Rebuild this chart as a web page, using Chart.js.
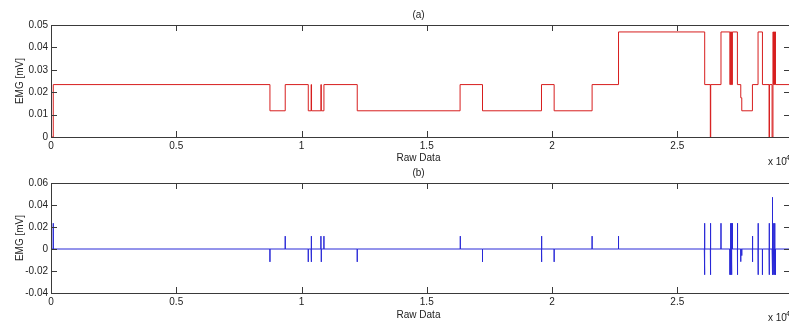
<!DOCTYPE html>
<html>
<head>
<meta charset="utf-8">
<script src="https://cdn.jsdelivr.net/npm/chart.js@4/dist/chart.umd.min.js"></script>
<style>
  html, body { margin: 0; padding: 0; background: #fff; width: 789px; height: 323px; overflow: hidden; }
  .plot { position: absolute; left: 0; width: 800px; }
</style>
</head>
<body>
<div class="plot" style="top:0;height:170px"><canvas id="emg"></canvas></div>
<div class="plot" style="top:160px;height:163px"><canvas id="diff"></canvas></div>
<script>
// (a) raw EMG, step changes: sample index -> level [mV]
const emgX = [0, 90, 8740, 9350, 10270, 10385, 10400, 10775, 10790, 10895, 12225,
  16330, 17225, 19580, 20085, 21600, 22655, 26095, 26320, 26335, 26745,
  27100, 27120, 27140, 27160, 27180, 27200, 27400, 27535, 27575, 28000,
  28225, 28400, 28665, 28680, 28785, 28820, 28840, 28860, 28880, 28900, 28920, 29500];
const emgY = [0, 0.0234, 0.0117, 0.0234, 0.0117, 0.0234, 0.0117, 0.0234, 0.0117, 0.0234, 0.0117,
  0.0234, 0.0117, 0.0234, 0.0117, 0.0234, 0.0469, 0.0234, 0, 0.0234, 0.0469,
  0.0234, 0.0469, 0.0234, 0.0469, 0.0234, 0.0469, 0.0234, 0.0175, 0.0117, 0.0234,
  0.0469, 0.0234, 0, 0.0234, 0, 0.0469, 0.0234, 0.0469, 0.0234, 0.0469, 0.0234, 0.0234];

// (b) spikes: sample index -> value [mV]
const diffX = [90, 8740, 9350, 10270, 10385, 10400, 10775, 10790, 10895, 12225,
  16330, 16345, 17225, 19580, 19590, 20085, 21600, 22655,
  26080, 26085, 26100, 26105, 26320, 26335, 26745,
  27100, 27120, 27140, 27160, 27180, 27200, 27400, 27410, 27535, 27575,
  28000, 28010, 28225, 28235, 28400, 28665, 28680, 28785, 28795,
  28820, 28840, 28860, 28880, 28900, 28920];
const diffY = [0.0234, -0.0117, 0.0117, -0.0117, 0.0117, -0.0117, 0.0117, -0.0117, 0.0117, -0.0117,
  0.0117, 0.0117, -0.0117, 0.0117, -0.0117, -0.0117, 0.0117, 0.0117,
  -0.0234, 0.0234, -0.0234, 0.0234, -0.0234, 0.0234, 0.0234,
  -0.0234, 0.0234, -0.0234, 0.0234, -0.0234, 0.0234, -0.0234, 0.0234, -0.0115, -0.006,
  0.0117, -0.0117, 0.0234, -0.0234, -0.0234, -0.0234, 0.0234, -0.0234, 0.0234,
  0.047, -0.0234, 0.0234, -0.0234, 0.0234, -0.0234];

const xMax = 29500;
const xTicks = [0, 5000, 10000, 15000, 20000, 25000];
const FONT = '"Liberation Sans", Arial, sans-serif';

const emgData = emgX.map((x, i) => ({ x: x, y: emgY[i] }));
const diffData = [{ x: 0, y: 0 }];
diffX.forEach((x, i) => {
  diffData.push({ x: x, y: 0 }, { x: x, y: diffY[i] }, { x: x, y: 0 });
});
diffData.push({ x: xMax, y: 0 });

// matlab style box, inward ticks and labels
const matlabAxes = {
  id: 'matlabAxes',
  afterDraw(chart, args, opts) {
    const { ctx, chartArea: a, scales: { x, y } } = chart;
    ctx.save();
    ctx.strokeStyle = '#3a3a3a';
    ctx.lineWidth = 1;
    ctx.beginPath();
    x.ticks.forEach(t => {
      const px = Math.round(x.getPixelForValue(t.value)) + 0.5;
      ctx.moveTo(px, a.bottom); ctx.lineTo(px, a.bottom - 6);
      ctx.moveTo(px, a.top); ctx.lineTo(px, a.top + 6);
    });
    y.ticks.forEach(t => {
      const py = Math.round(y.getPixelForValue(t.value)) + 0.5;
      ctx.moveTo(a.left, py); ctx.lineTo(a.left + 6, py);
      ctx.moveTo(a.right, py); ctx.lineTo(a.right - 6, py);
    });
    ctx.stroke();
    ctx.strokeRect(Math.round(a.left) + 0.5, Math.round(a.top) + 0.5,
      Math.round(a.right - a.left), Math.round(a.bottom - a.top));

    const cx = (a.left + a.right) / 2 - 2;
    ctx.fillStyle = '#222';
    ctx.textAlign = 'center';
    ctx.textBaseline = 'middle';
    ctx.font = '10px ' + FONT;
    ctx.fillText(opts.title, cx, a.top - 10);
    ctx.fillText('Raw Data', cx, a.bottom + opts.xlabelGap);

    ctx.textAlign = 'left';
    ctx.fillText('x 10', 768, a.bottom + opts.expGap);
    ctx.font = '7px ' + FONT;
    ctx.fillText('4', 786, a.bottom + opts.expGap - 4);

    ctx.font = '10px ' + FONT;
    ctx.translate(20, (a.top + a.bottom) / 2);
    ctx.rotate(-Math.PI / 2);
    ctx.textAlign = 'center';
    ctx.fillText('EMG [mV]', 0, 0);
    ctx.restore();
  }
};

function makeOptions(yMin, yMax, yStep, padTop, xHeight, title, xlabelGap, expGap) {
  return {
    responsive: true,
    maintainAspectRatio: false,
    animation: false,
    events: [],
    layout: { padding: { top: padTop, right: 10, left: 0, bottom: 0 } },
    plugins: {
      legend: { display: false },
      tooltip: { enabled: false },
      matlabAxes: { title: title, xlabelGap: xlabelGap, expGap: expGap }
    },
    scales: {
      x: {
        type: 'linear',
        min: 0,
        max: xMax,
        grid: { display: false, drawTicks: false },
        border: { display: false },
        afterBuildTicks(scale) { scale.ticks = xTicks.map(v => ({ value: v })); },
        ticks: {
          autoSkip: false,
          maxRotation: 0,
          padding: 3,
          color: '#222',
          font: { family: FONT, size: 10 },
          callback: v => String(+(v / 10000).toFixed(2))
        },
        afterFit(scale) { scale.height = xHeight; }
      },
      y: {
        min: yMin,
        max: yMax,
        grid: { display: false, drawTicks: false },
        border: { display: false },
        ticks: {
          stepSize: yStep,
          includeBounds: false,
          padding: 3,
          color: '#222',
          font: { family: FONT, size: 10 },
          callback: v => String(+v.toFixed(2))
        },
        afterFit(scale) { scale.width = 51; }
      }
    }
  };
}

new Chart(document.getElementById('emg'), {
  type: 'line',
  data: {
    datasets: [{
      data: emgData,
      stepped: true,
      borderColor: 'rgb(215,30,30)',
      borderWidth: 1,
      pointRadius: 0,
      fill: false
    }]
  },
  options: makeOptions(0, 0.05, 0.01, 25, 33, '(a)', 21, 25),
  plugins: [matlabAxes]
});

new Chart(document.getElementById('diff'), {
  type: 'line',
  data: {
    datasets: [{
      data: diffData,
      borderColor: 'rgb(40,40,215)',
      borderWidth: 1,
      pointRadius: 0,
      fill: false,
      tension: 0
    }]
  },
  options: makeOptions(-0.04, 0.06, 0.02, 23, 30, '(b)', 22, 25),
  plugins: [matlabAxes]
});
</script>
</body>
</html>
